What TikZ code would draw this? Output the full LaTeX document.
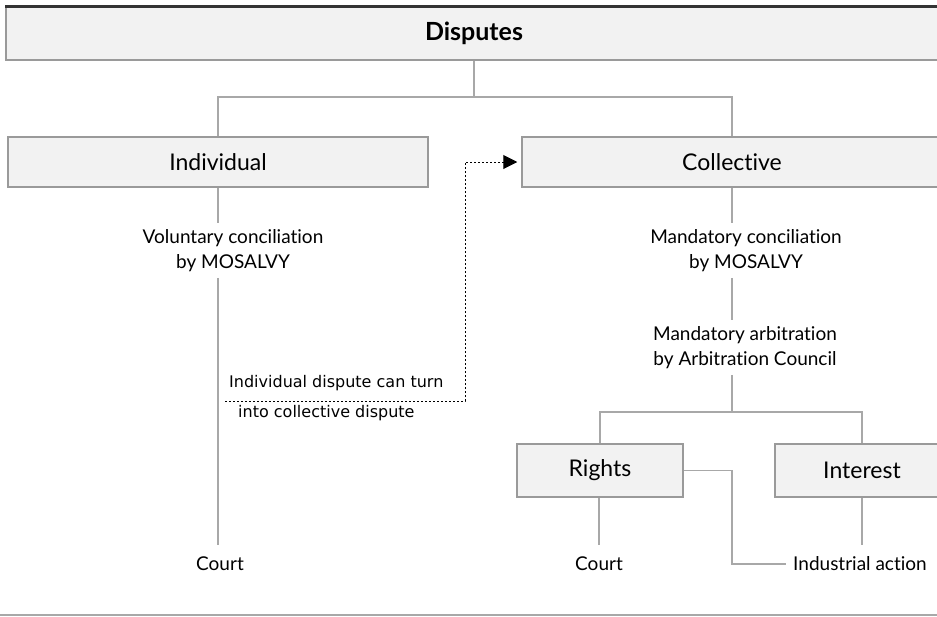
\documentclass[tikz,border=0pt]{standalone}
\usepackage{fontspec}
\setmainfont{Lato}[Ligatures=NoCommon]
\newfontfamily\notefont{DejaVu Sans}
\usetikzlibrary{arrows.meta,calc}
\definecolor{boxfill}{HTML}{F2F2F2}
\definecolor{boxedge}{HTML}{9A9A9A}
\definecolor{linegray}{HTML}{A8A8A8}
\definecolor{topline}{HTML}{333333}
\begin{document}
\begin{tikzpicture}[x=1pt,y=-1pt,
  box/.style={draw=boxedge, line width=1.5pt, fill=boxfill, minimum height=50pt,
    inner sep=0pt, font=\fontsize{23}{26}\selectfont},
  conn/.style={draw=linegray, line width=1.4pt},
  lbl/.style={align=center, font=\fontsize{19}{25}\selectfont, inner xsep=0pt, inner ysep=6pt},
  note/.style={font=\notefont\fontsize{16}{18}\selectfont, inner sep=0pt, anchor=west},
  dotconn/.style={draw=black, line width=1pt, dash pattern=on 2pt off 2pt}]
\useasboundingbox (0,0) rectangle (937,616);
\clip (0,0) rectangle (937,616);
% top band
\node[box, minimum width=936pt, minimum height=53pt,
  font=\bfseries\fontsize{25}{28}\selectfont] (disp) at (474,33.5) {Disputes};
\draw[topline, line width=3pt] (disp.north west) -- (disp.north east);
% level 1
\node[box, minimum width=420pt] (ind) at (218,162) {Individual};
\node[box, minimum width=420pt] (col) at (732,162) {Collective};
% individual branch
\node[lbl] (vol) at (233,250.5) {Voluntary conciliation\\by MOSALVY};
\node[lbl, inner ysep=12pt] (court1) at (220,564) {Court};
% collective branch
\node[lbl] (mcon) at (746,250.5) {Mandatory conciliation\\by MOSALVY};
\node[lbl] (marb) at (745,347.5) {Mandatory arbitration\\by Arbitration Council};
\coordinate (split) at (732,412);
\node[box, minimum width=166pt, minimum height=53pt] (rights) at (600,470.5) {Rights};
\node[box, minimum width=174pt, minimum height=53pt] (interest) at (862,470.5) {Interest};
\node[lbl, inner ysep=12pt] (court2) at (599,564) {Court};
\node[lbl, inner ysep=12pt, inner xsep=7pt] (indact) at (860,564) {Industrial action};
% notes
\node[note] (n1) at (229,383) {Individual dispute can turn};
\node[note] (n2) at (238,413) {into collective dispute};
% connectors
\coordinate (top) at (474,97);
\draw[conn] (disp.south) -- (top);
\draw[conn] (ind.north) -- (ind.north |- top) -- (col.north |- top) -- (col.north);
\draw[conn] (ind.south) -- (ind.south |- vol.north);
\draw[conn] (ind.south |- vol.south) -- (ind.south |- court1.north);
\draw[conn] (col.south) -- (col.south |- mcon.north);
\draw[conn] (col.south |- mcon.south) -- (col.south |- marb.north);
\draw[conn] (col.south |- marb.south) -- (split);
\draw[conn] (rights.north) -- (rights.north |- split) -- (interest.north |- split) -- (interest.north);
\draw[conn] (rights.south -| court2) -- (court2.north);
\draw[conn] (interest.south) -- (interest.south |- indact.north);
\draw[conn] (rights.east) -- (rights.east -| split) |- (indact.west);
% dotted turn
\coordinate (dstart) at (225,401);
\coordinate (dbend) at (465,401);
\draw[dotconn, -{Triangle[length=14pt,width=14pt]}, shorten >=4pt]
  (dstart) -- (dbend) -- (dbend |- col.west) -- (col.west);
% bottom rule
\coordinate (bl) at (0,615);
\coordinate (br) at (937,615);
\draw[linegray, line width=1.5pt] (bl) -- (br);
\end{tikzpicture}
\end{document}
